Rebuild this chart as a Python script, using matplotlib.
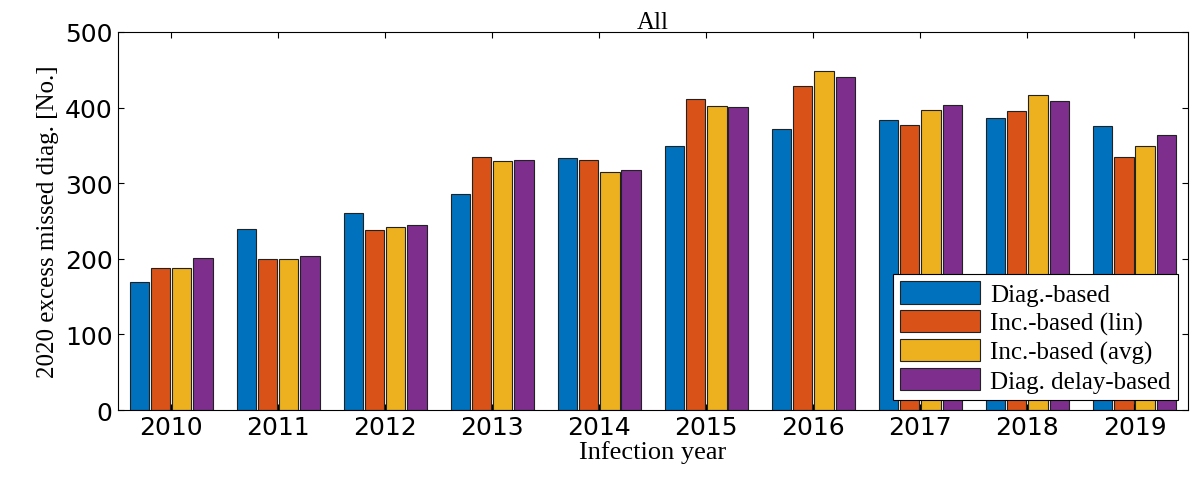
import matplotlib
matplotlib.use("Agg")
import matplotlib.pyplot as plt
import numpy as np

years = ["2010","2011","2012","2013","2014","2015","2016","2017","2018","2019"]
diag_based = [169,240,260,286,333,349,372,383,386,376]
inc_lin = [188,200,238,334,331,411,428,377,396,335]
inc_avg = [188,200,242,329,315,402,449,397,417,349]
delay_based = [201,204,245,330,318,401,440,403,409,364]
series = [diag_based, inc_lin, inc_avg, delay_based]
labels = ["Diag.-based","Inc.-based (lin)","Inc.-based (avg)","Diag. delay-based"]
colors = ["#0072BD","#D95319","#EDB120","#7E2F8E"]

fig = plt.figure(figsize=(12,4.81), dpi=100)
ax = fig.add_axes([0.098,0.1455,0.892,0.786])
x = np.arange(len(years))
w = 0.18
for i,(s,l,c) in enumerate(zip(series,labels,colors)):
    ax.bar(x+(i-1.5)*w*1.1, s, w, color=c, edgecolor="#222222", linewidth=0.8, label=l)
ax.set_xlim(-0.5,len(years)-0.5)
ax.set_ylim(0,500)
ax.set_xticks(x); ax.set_xticklabels(years)
ax.set_yticks([0,100,200,300,400,500])
ax.tick_params(direction="in", labelsize=18, length=4, top=True, right=True)
for t in ax.get_xticklabels()+ax.get_yticklabels():
    t.set_fontfamily("DejaVu Sans")
ax.set_xlabel("Infection year", fontfamily="Liberation Serif", fontsize=19, labelpad=1)
ax.set_ylabel("2020 excess missed diag. [No.]", fontfamily="Liberation Serif", fontsize=18, labelpad=4)
ax.set_title("All", fontfamily="Liberation Serif", fontsize=18, pad=3)
leg = ax.legend(loc="lower right", prop={"family":"Liberation Serif","size":18}, fancybox=False,
                edgecolor="black", framealpha=1, borderaxespad=0.4, handlelength=3.2, handleheight=1.0,
                labelspacing=0.15, borderpad=0.3, handletextpad=0.4)
leg.get_frame().set_linewidth(0.8)
fig.savefig("out.png")
